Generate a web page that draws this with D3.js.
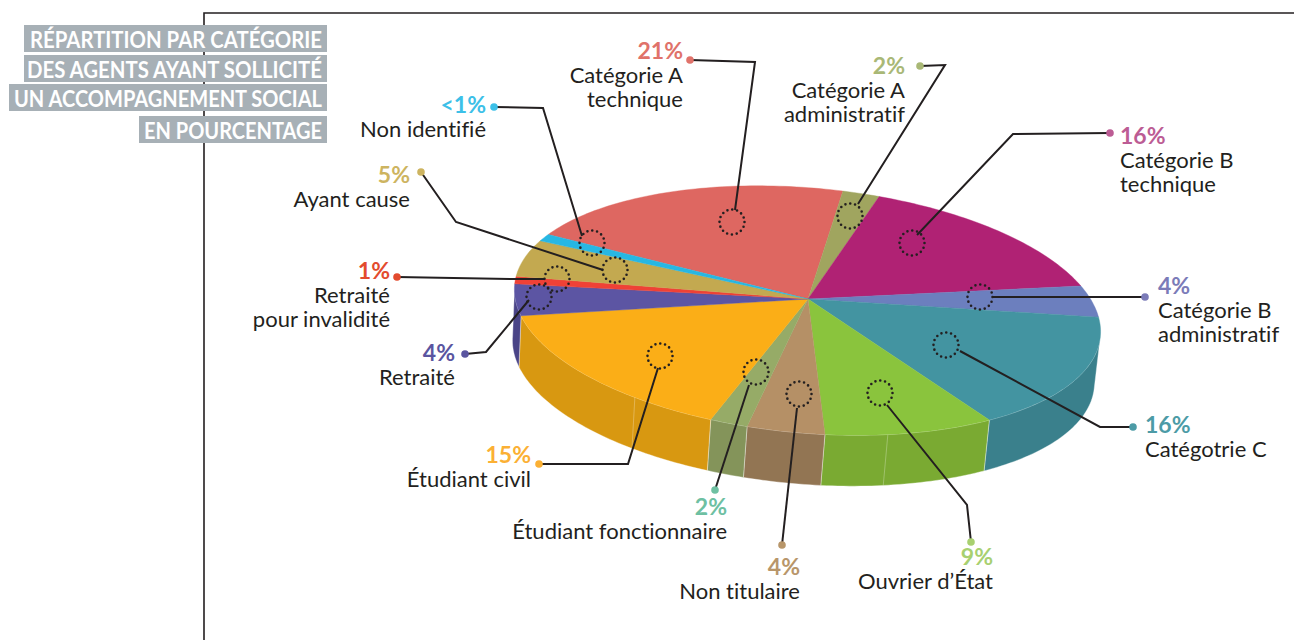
<!DOCTYPE html>
<html>
<head>
<meta charset="utf-8">
<script src="https://cdnjs.cloudflare.com/ajax/libs/d3/7.8.5/d3.min.js"></script>
<style>
body { margin: 0; background: #fff; }
svg { display: block; }
text { font-family: "Lato", sans-serif; font-variant-ligatures: none; }
</style>
</head>
<body>
<div class="chart-container"></div>
<script>
var titleLines = ["RÉPARTITION PAR CATÉGORIE", "DES AGENTS AYANT SOLLICITÉ", "UN ACCOMPAGNEMENT SOCIAL", "EN POURCENTAGE"];

// printed figures
var percentLabels = ["21%", "2%", "16%", "4%", "16%", "9%", "4%", "2%", "15%", "4%", "1%", "5%", "<1%"];
var categories = [
  ["Catégorie A", "technique"],
  ["Catégorie A", "administratif"],
  ["Catégorie B", "technique"],
  ["Catégorie B", "administratif"],
  ["Catégotrie C"],
  ["Ouvrier d’État"],
  ["Non titulaire"],
  ["Étudiant fonctionnaire"],
  ["Étudiant civil"],
  ["Retraité"],
  ["Retraité", "pour invalidité"],
  ["Ayant cause"],
  ["Non identifié"]
];
// slice sizes as drawn in the picture (they differ a little from the printed figures)
var sliceShares = [19.2, 2, 15.2, 4, 16.2, 9.7, 4.25, 2.05, 16.25, 4.1, 1, 5, 1];

var topColors = ["#DE6761", "#A0A55F", "#B02274", "#6C7FBE", "#4394A1", "#8AC43D", "#B59066", "#96AB67", "#FBAE17", "#5C55A3", "#EF4136", "#C3A950", "#27B7E3"];
var wallColors = ["#B5544F", "#84884E", "#8F1C5F", "#58689C", "#3A808C", "#7AAA32", "#927553", "#84945A", "#D89811", "#4A4487", "#C4352C", "#A08B42", "#2096BA"];
var labelColors = ["#E0726A", "#A9B876", "#BC5C94", "#7B7BB8", "#4C9BA6", "#A8D070", "#B8966A", "#6EC0A2", "#FBB034", "#5A55A0", "#E34B2E", "#CDB460", "#3CC0E8"];

// seams printed on the side wall, in degrees on the rim
var wallSeams = [72, 124];

// leader = dot, elbow(s), end on the dotted ring; ring = dotted ring centre
var layout = [
  {anchor: "end", x: 683, y: 59, leader: [[690, 60], [755, 62], [735, 210]], ring: [732, 222]},
  {anchor: "end", x: 905, y: 74, leader: [[920, 66], [945, 65], [858, 204]], ring: [850, 216]},
  {anchor: "start", x: 1120, y: 144, leader: [[1110, 133], [1013, 134], [917, 235]], ring: [912, 243]},
  {anchor: "start", x: 1158, y: 294, leader: [[1145, 297], [993, 297]], ring: [980, 297]},
  {anchor: "start", x: 1145, y: 433, leader: [[1133, 427], [1100, 427], [960, 351]], ring: [946, 345]},
  {anchor: "end", x: 993, y: 565, leader: [[971, 542], [967, 505], [887, 405]], ring: [880, 393]},
  {anchor: "end", x: 800, y: 575, leader: [[782, 545], [797, 408]], ring: [799, 394]},
  {anchor: "end", x: 727, y: 515, leader: [[715, 490], [749, 385]], ring: [756, 372]},
  {anchor: "end", x: 531, y: 463, leader: [[539, 464], [628, 464], [658, 368]], ring: [660, 356]},
  {anchor: "end", x: 455, y: 361, leader: [[465, 354], [486, 352], [529, 300]], ring: [539, 297]},
  {anchor: "end", x: 390, y: 279, leader: [[397, 277], [513, 279], [544, 279]], ring: [557, 279]},
  {anchor: "end", x: 410, y: 183, leader: [[421, 172], [456, 222], [603, 270]], ring: [615, 270]},
  {anchor: "end", x: 486, y: 113, leader: [[494, 107], [543, 108], [582, 236]], ring: [592, 243]}
];

var width = 1294, height = 640;
var apex = [808, 299];
var topRim = {cx: 807.5, cy: 310.5, rx: 294, ry: 122.5};
var bottomRim = {cx: 803.5, cy: 361.5, rx: 292, ry: 122.5};
var tilt = 5 * Math.PI / 180;

var svg = d3.select(".chart-container").append("svg")
    .attr("width", width)
    .attr("height", height);

// frame
svg.append("path")
    .attr("d", d3.line()([[204, height], [204, 13], [width, 13]]))
    .attr("fill", "none")
    .attr("stroke", "#231F20")
    .attr("stroke-width", 1.6);

function rimPoint(rim, t) {
    var u = rim.rx * Math.cos(t), v = rim.ry * Math.sin(t);
    return [rim.cx + u * Math.cos(tilt) - v * Math.sin(tilt),
            rim.cy + u * Math.sin(tilt) + v * Math.cos(tilt)];
}

function rimArc(rim, t0, t1) {
    var n = Math.max(2, Math.ceil((t1 - t0) / 0.02));
    return d3.range(n + 1).map(function(i) {
        return rimPoint(rim, t0 + (t1 - t0) * i / n);
    });
}

// rim angle 0 is to the right, the first slice starts at the upper left
var firstAngle = (205.7 + 90) * Math.PI / 180;
var pie = d3.pie().sort(null).value(function(d) { return d; })
    .startAngle(firstAngle).endAngle(firstAngle + 2 * Math.PI);
var slices = pie(sliceShares).map(function(d) {
    return {i: d.index, t0: d.startAngle - Math.PI / 2, t1: d.endAngle - Math.PI / 2};
});

var line = d3.line();

// only the front half of the rim has a wall (2pi to 3pi after the start offset)
var frontSlices = slices.map(function(d) {
    return {i: d.i, t0: Math.max(d.t0, 2 * Math.PI), t1: Math.min(d.t1, 3 * Math.PI)};
}).filter(function(d) { return d.t1 > d.t0; });

var walls = svg.append("g");
walls.selectAll("path").data(frontSlices).enter().append("path")
    .attr("d", function(d) {
        return line(rimArc(topRim, d.t0, d.t1).concat(rimArc(bottomRim, d.t0, d.t1).reverse())) + "Z";
    })
    .attr("fill", function(d) { return wallColors[d.i]; })
    .attr("stroke", "#fff")
    .attr("stroke-opacity", 0.45)
    .attr("stroke-width", 0.8);

walls.selectAll("line").data(wallSeams).enter().append("line")
    .each(function(deg) {
        var t = deg * Math.PI / 180, a = rimPoint(topRim, t), b = rimPoint(bottomRim, t);
        d3.select(this).attr("x1", a[0]).attr("y1", a[1]).attr("x2", b[0]).attr("y2", b[1]);
    })
    .attr("stroke", "#fff")
    .attr("stroke-opacity", 0.35)
    .attr("stroke-width", 0.8);

// top of the pie
svg.append("g").selectAll("path").data(slices).enter().append("path")
    .attr("d", function(d) {
        return line([apex].concat(rimArc(topRim, d.t0, d.t1))) + "Z";
    })
    .attr("fill", function(d) { return topColors[d.i]; })
    .attr("stroke", function(d) { return topColors[d.i]; })
    .attr("stroke-width", 0.4);

// leaders
var notes = svg.append("g").selectAll("g").data(layout).enter().append("g");

notes.append("path")
    .attr("d", function(d) { return line(d.leader); })
    .attr("fill", "none")
    .attr("stroke", "#231F20")
    .attr("stroke-width", 2);

notes.append("circle")
    .attr("cx", function(d) { return d.ring[0]; })
    .attr("cy", function(d) { return d.ring[1]; })
    .attr("r", 12.5)
    .attr("fill", "none")
    .attr("stroke", "#231F20")
    .attr("stroke-width", 2.6)
    .attr("stroke-linecap", "round")
    .attr("stroke-dasharray", "0 4.9");

notes.append("circle")
    .attr("cx", function(d) { return d.leader[0][0]; })
    .attr("cy", function(d) { return d.leader[0][1]; })
    .attr("r", 3.8)
    .attr("fill", function(d, i) { return labelColors[i]; });

// labels
notes.append("text")
    .attr("x", function(d) { return d.x; })
    .attr("y", function(d) { return d.y; })
    .attr("text-anchor", function(d) { return d.anchor; })
    .attr("font-size", 23)
    .attr("font-weight", 700)
    .attr("fill", function(d, i) { return labelColors[i]; })
    .text(function(d, i) { return percentLabels[i]; });

notes.each(function(d, i) {
    var g = d3.select(this);
    categories[i].forEach(function(txt, k) {
        g.append("text")
            .attr("x", d.x)
            .attr("y", d.y + 24 + k * 24)
            .attr("text-anchor", d.anchor)
            .attr("font-size", 22)
            .attr("fill", "#231F20")
            .text(txt);
    });
});

// title block sits over the frame
var titleBoxes = [[24, 25, 292], [24, 55, 295], [9, 84, 308], [139, 116, 178]];
var title = svg.append("g").selectAll("g").data(titleLines).enter().append("g");
title.append("rect")
    .attr("x", function(d, i) { return titleBoxes[i][0]; })
    .attr("y", function(d, i) { return titleBoxes[i][1]; })
    .attr("width", function(d, i) { return 327 - titleBoxes[i][0]; })
    .attr("height", 27)
    .attr("fill", "#A7B0B6");
title.append("text")
    .attr("x", 322)
    .attr("y", function(d, i) { return titleBoxes[i][1] + 23; })
    .attr("text-anchor", "end")
    .attr("font-size", 23)
    .attr("font-weight", 700)
    .attr("textLength", function(d, i) { return titleBoxes[i][2]; })
    .attr("lengthAdjust", "spacingAndGlyphs")
    .attr("fill", "#fff")
    .text(function(d) { return d; });
</script>
</body>
</html>
